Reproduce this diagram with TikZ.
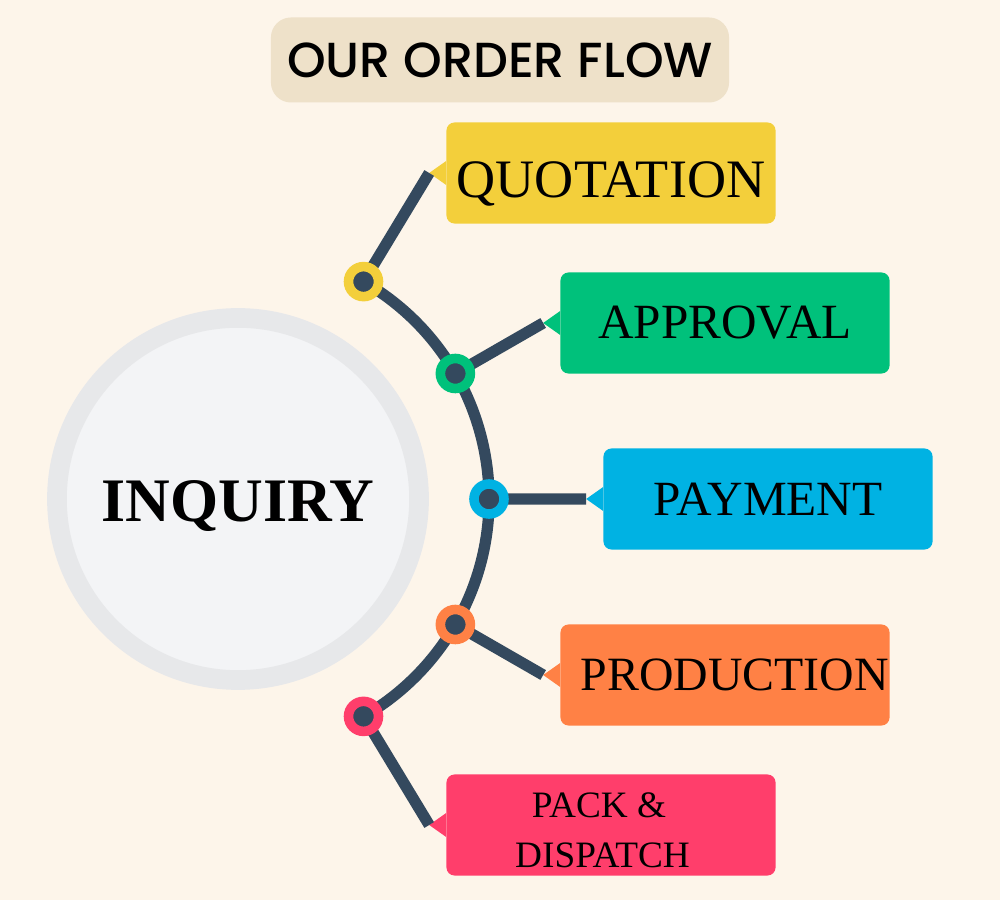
\documentclass[tikz,border=0pt]{standalone}
\usepackage{fontspec}
\setmainfont{Liberation Serif}
\newfontfamily\titlefont{Poppins Medium}
\usepackage{xcolor}
\definecolor{pageBg}{HTML}{FDF5EA}
\definecolor{titleBg}{HTML}{EEE1C9}
\definecolor{hubRing}{HTML}{E7E8EA}
\definecolor{hubFill}{HTML}{F3F4F6}
\definecolor{lineDark}{HTML}{34495E}
\definecolor{quoteYellow}{HTML}{F3CF3B}
\definecolor{approveGreen}{HTML}{00C17B}
\definecolor{payBlue}{HTML}{00B2E3}
\definecolor{prodOrange}{HTML}{FF8145}
\definecolor{packPink}{HTML}{FF3E6B}
\usepackage{tikz}
\usetikzlibrary{%
    shapes,
    positioning,
    calc
}

\begin{document}
\begin{tikzpicture}[x=0.025cm, y=0.025cm,
                heading/.style={rectangle, rounded corners=0.5cm, minimum width=11.45cm, minimum height=2.125cm, fill=titleBg, text centered, font=\titlefont\fontsize{35}{40}\selectfont},
                hubnode/.style={circle, minimum size=9.05cm, fill=hubFill, draw=hubRing, line width=14pt, text height=32pt, text depth=0pt, font=\bfseries\fontsize{44}{48}\selectfont},
                stage/.style={rectangle, rounded corners=0.2cm, minimum width=8.225cm, minimum height=2.525cm, inner sep=0pt, text centered, align=center, font=\fontsize{35}{40}\selectfont},
                dot/.style={circle, minimum size=0.75cm, inner sep=0pt, fill=lineDark, draw=#1, line width=6.8pt},
                link/.style={draw=lineDark, line width=8pt}
            ]

            \fill[pageBg] (0,0) rectangle (1000,900);

            \node (title) [heading] at (500,840) {OUR ORDER FLOW};

            \node (hub) [hubnode] at (238,401) {INQUIRY};

            \node (quote) [stage, fill=quoteYellow, text height=34.5pt, text depth=0pt, font=\fontsize{38.5}{40}\selectfont] at (611,727) {QUOTATION};
            \node (approve) [stage, fill=approveGreen] at (725,577) {APPROVAL};
            \node (pay) [stage, fill=payBlue] at (768,401) {PAYMENT};
            \node (prod) [stage, fill=prodOrange, font=\fontsize{34}{40}\selectfont] at (725,225) {\hspace{14pt}PRODUCTION};
            \node (pack) [stage, fill=packPink, text height=61pt, text depth=0pt, font=\fontsize{26.5}{35.5}\selectfont] at (611,75) {PACK \&\hspace{17pt}\mbox{}\\ DISPATCH\hspace{12pt}\mbox{}};

            \fill[quoteYellow] ([yshift=0.3cm]quote.west) -- ++(-17,-12) coordinate (quote tip) -- ++(17,-12) -- cycle;
            \fill[approveGreen] ([yshift=0.3cm]approve.west) -- ++(-17,-12) coordinate (approve tip) -- ++(17,-12) -- cycle;
            \fill[payBlue] ([yshift=0.3cm]pay.west) -- ++(-17,-12) coordinate (pay tip) -- ++(17,-12) -- cycle;
            \fill[prodOrange] ([yshift=0.3cm]prod.west) -- ++(-17,-12) coordinate (prod tip) -- ++(17,-12) -- cycle;
            \fill[packPink] ([yshift=0.3cm]pack.west) -- ++(-17,-12) coordinate (pack tip) -- ++(17,-12) -- cycle;

            \coordinate (s1) at ([shift={(60:251)}]hub);
            \coordinate (s2) at ([shift={(30:251)}]hub);
            \coordinate (s3) at ([shift={(0:251)}]hub);
            \coordinate (s4) at ([shift={(-30:251)}]hub);
            \coordinate (s5) at ([shift={(-60:251)}]hub);

            \draw [link] (s1) arc[start angle=60, end angle=-60, radius=6.275cm];
            \draw [link] (s1) -- (quote tip);
            \draw [link] (s2) -- (approve tip);
            \draw [link] (s3) -- (pay tip);
            \draw [link] (s4) -- (prod tip);
            \draw [link] (s5) -- (pack tip);

            \node (d1) [dot=quoteYellow] at (s1) {};
            \node (d2) [dot=approveGreen] at (s2) {};
            \node (d3) [dot=payBlue] at (s3) {};
            \node (d4) [dot=prodOrange] at (s4) {};
            \node (d5) [dot=packPink] at (s5) {};
        \end{tikzpicture}
\end{document}
